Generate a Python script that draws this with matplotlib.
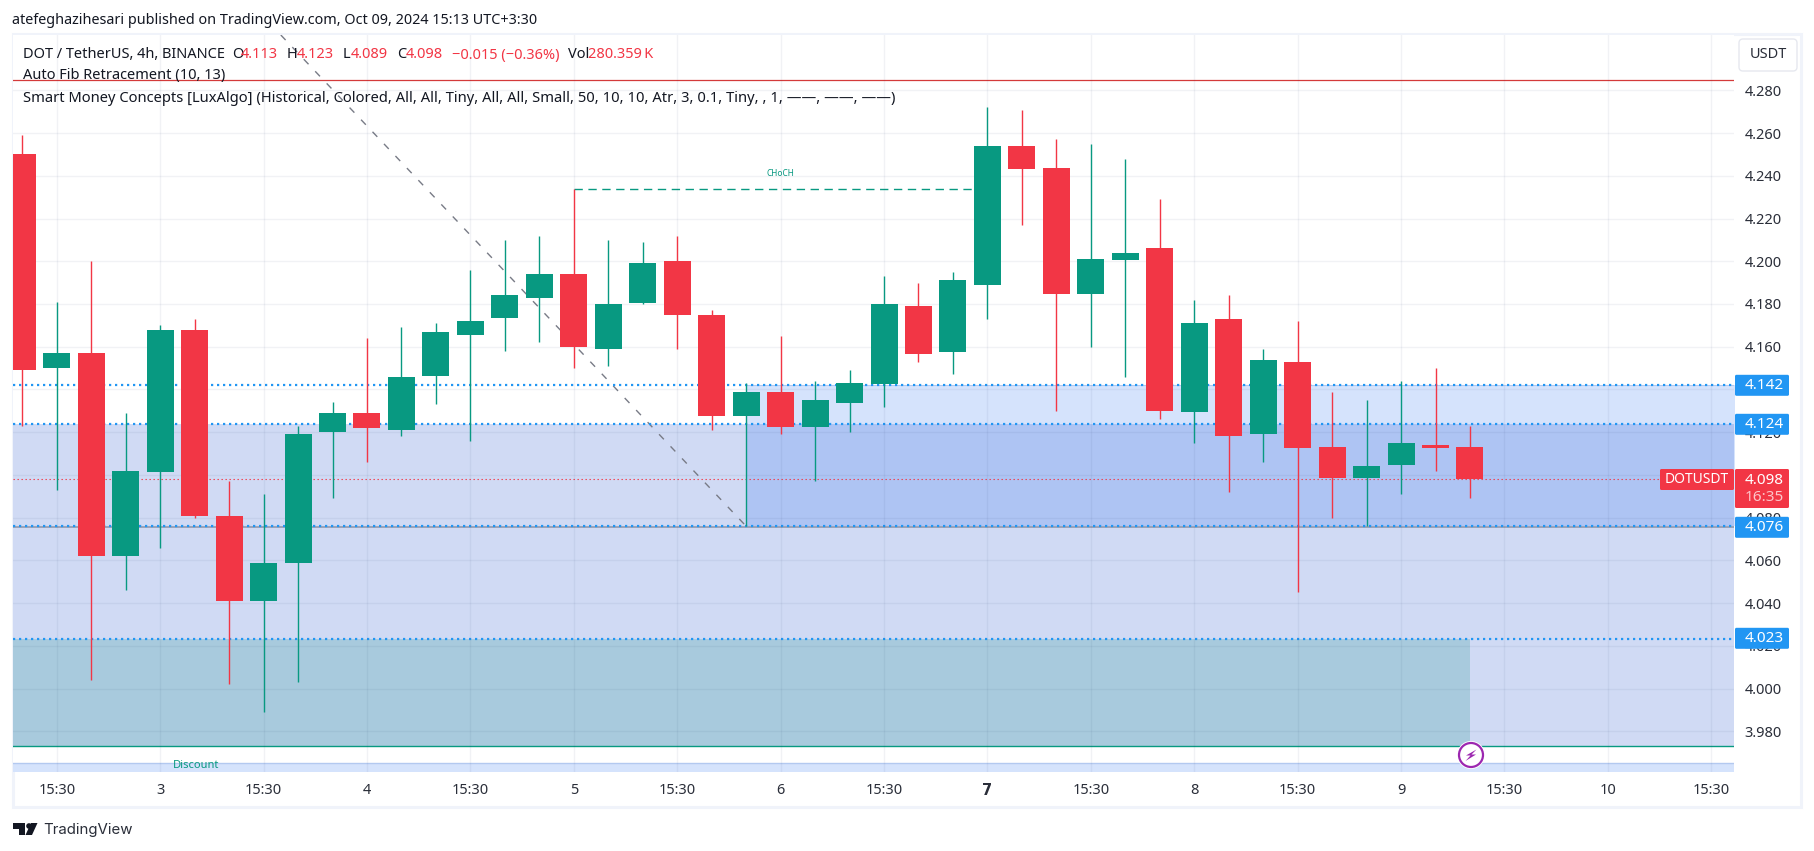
import matplotlib
matplotlib.use("Agg")
import matplotlib.pyplot as plt
from matplotlib.patches import Rectangle, FancyBboxPatch, Circle, Polygon
from matplotlib.transforms import Affine2D

plt.rcParams['font.family'] = ['Noto Sans', 'DejaVu Sans']

# candles, 4h
opens = [4.250, 4.150, 4.157, 4.062, 4.1015, 4.168, 4.081, 4.041, 4.059, 4.120, 4.129, 4.121, 4.1465, 4.1655,
         4.1735, 4.183, 4.194, 4.159, 4.1805, 4.200, 4.175, 4.1276, 4.139, 4.1225, 4.1337, 4.1426, 4.179, 4.1576,
         4.189, 4.254, 4.2437, 4.1847, 4.2006, 4.206, 4.1295, 4.173, 4.119, 4.153, 4.113, 4.0986, 4.1047, 4.114, 4.113]
highs = [4.259, 4.181, 4.200, 4.129, 4.170, 4.173, 4.097, 4.091, 4.123, 4.134, 4.164, 4.169, 4.171, 4.196,
         4.210, 4.212, 4.234, 4.210, 4.209, 4.212, 4.177, 4.143, 4.165, 4.144, 4.149, 4.193, 4.190, 4.195,
         4.272, 4.271, 4.257, 4.255, 4.248, 4.229, 4.182, 4.184, 4.159, 4.172, 4.139, 4.135, 4.144, 4.150, 4.123]
lows = [4.123, 4.093, 4.004, 4.046, 4.066, 4.080, 4.002, 3.989, 4.003, 4.089, 4.106, 4.118, 4.133, 4.116,
        4.158, 4.162, 4.150, 4.151, 4.180, 4.159, 4.121, 4.076, 4.119, 4.097, 4.120, 4.132, 4.153, 4.147,
        4.173, 4.217, 4.130, 4.160, 4.146, 4.126, 4.115, 4.092, 4.106, 4.045, 4.080, 4.076, 4.091, 4.102, 4.089]
closes = [4.149, 4.157, 4.062, 4.102, 4.168, 4.081, 4.041, 4.059, 4.119, 4.129, 4.122, 4.146, 4.167, 4.172,
          4.184, 4.194, 4.160, 4.180, 4.199, 4.175, 4.1276, 4.139, 4.1225, 4.135, 4.143, 4.180, 4.1566, 4.191,
          4.254, 4.243, 4.1847, 4.201, 4.204, 4.130, 4.171, 4.118, 4.154, 4.1126, 4.0986, 4.104, 4.115, 4.1126, 4.098]

# axis
y_ticks = [3.98, 4.00, 4.02, 4.04, 4.06, 4.08, 4.10, 4.12, 4.14, 4.16, 4.18, 4.20, 4.22, 4.24, 4.26, 4.28]
x_ticks = [1, 4, 7, 10, 13, 16, 19, 22, 25, 28, 31, 34, 37, 40, 43, 46, 49]
x_labels = ['15:30', '3', '15:30', '4', '15:30', '5', '15:30', '6', '15:30', '7', '15:30', '8', '15:30', '9', '15:30', '10', '15:30']

# levels
fib_levels = [4.142, 4.124, 4.076, 4.023]
last_price = 4.098
top_line = 4.2847
bottom_line = 3.973
choch_level = 4.2337
fib_x = [7.5, 21]
fib_y = [4.3059, 4.076]
box_start = 21
choch_x = [16, 28]
teal_end = 42
discount_top = 3.9652

GREEN = '#089981'
RED = '#f23645'
BLUE = '#2196f3'
BORDER = '#f0f3fa'
TEXT = '#131722'

W, H = 1814, 851
fig = plt.figure(figsize=(W / 100, H / 100), dpi=100, facecolor='white')
px = Affine2D().scale(1, -1).translate(0, H)  # top-left pixel coords for the page furniture

# outer frame
fig.add_artist(Rectangle((12.5, 34), 1788, 772.5, fill=False, ec=BORDER, lw=2.2, transform=px, zorder=-1))

ax = fig.add_axes([13 / W, 1 - 772 / H, (1734 - 13) / W, (772 - 35) / H])
ax.set_xlim(-0.27, 49.66)
ax.set_ylim(3.96095, 4.3059)
for s in ax.spines.values():
    s.set_visible(False)

# zones
ax.axhspan(bottom_line, fib_levels[1], color=(20 / 255, 70 / 255, 200 / 255), alpha=0.2, lw=0, zorder=1)
ax.axhspan(3.90, discount_top, color=(8 / 255, 90 / 255, 243 / 255), alpha=0.17, lw=0, zorder=1)
ax.axhline(discount_top, color='#b3c9f0', lw=1, zorder=1)
ax.fill_between([box_start, 60], fib_levels[2], fib_levels[0], color=(8 / 255, 90 / 255, 243 / 255), alpha=0.17, lw=0, zorder=1)
ax.plot([box_start, 60], [fib_levels[0]] * 2, color='#b3c9f0', lw=0.8, zorder=1)
ax.fill_between([-1, teal_end], bottom_line, fib_levels[3], color=(78 / 255, 168 / 255, 171 / 255), alpha=0.3, lw=0, zorder=1)

# grid goes over the zones, it shows darker there
ax.set_yticks(y_ticks)
ax.set_yticklabels([f'{v:.3f}' for v in y_ticks])
ax.set_xticks(x_ticks)
ax.set_xticklabels(x_labels)
ax.grid(True, color=(30 / 255, 50 / 255, 100 / 255), alpha=0.06, lw=1)
ax.set_axisbelow(False)
for g in ax.get_xgridlines() + ax.get_ygridlines():
    g.set_zorder(1.5)
ax.yaxis.tick_right()
ax.tick_params(axis='both', length=0, labelsize=10.5, labelcolor='#2a2e39')
ax.tick_params(axis='y', pad=7.5)
ax.tick_params(axis='x', pad=7.8)
# Monday label is bold, Noto has no bold here
ax.get_xticklabels()[9].set_fontfamily('DejaVu Sans')
ax.get_xticklabels()[9].set_fontweight('bold')

# level lines
ax.axhline(fib_levels[2] - 0.0005, color='#8b93a8', lw=1.1, zorder=2)
ax.axhline(top_line, color='#d43a3a', lw=0.9, zorder=2)
ax.axhline(bottom_line, color=GREEN, lw=1, zorder=2)
for lvl in fib_levels:
    ax.axhline(lvl, color=BLUE, lw=1.6, ls=(0, (1.0, 1.7)), zorder=2.2)
ax.axhline(last_price, color=RED, lw=0.8, ls=(0, (1.2, 2.4)), zorder=2.2)
ax.plot(fib_x, fib_y, color='#787b86', lw=1, ls=(0, (5, 7)), zorder=2)
ax.plot(choch_x, [choch_level] * 2, color=GREEN, lw=1, ls=(0, (6, 4)), zorder=2)
ax.text(sum(choch_x) / 2, choch_level + 0.0075, 'CHoCH', color=GREEN, fontsize=6, ha='center', va='center', zorder=2)
ax.text(5.05, 3.9638, 'Discount', color=GREEN, fontsize=8, ha='center', va='center', zorder=2)

# candles
for i in range(len(opens)):
    c = GREEN if closes[i] >= opens[i] else RED
    ax.vlines(i, lows[i], highs[i], color=c, lw=1, zorder=3)
    ax.bar(i, abs(closes[i] - opens[i]), bottom=min(opens[i], closes[i]), width=0.783, color=c, lw=0, zorder=3.1)

# lightning marker
fig.add_artist(Circle((1471, 755), 14, fc='white', ec='none', transform=px, zorder=6))
fig.add_artist(Circle((1471, 755), 12, fc='white', ec='#9c27b0', lw=1.6, transform=px, zorder=6))
fig.add_artist(Polygon([(1476.5, 749.5), (1466, 755.5), (1470.5, 755.5), (1465.5, 761), (1476, 754.5), (1471.5, 754.5)],
                       closed=True, fc='#9c27b0', ec='none', transform=px, zorder=6))


def tag(x0, x1, y0, y1, color):
    fig.add_artist(FancyBboxPatch((x0 + 1, y0 + 1), x1 - x0 - 2, y1 - y0 - 2, boxstyle='round,pad=1,rounding_size=1.5',
                                  fc=color, ec='none', transform=px, zorder=5))


# price tags
for lvl, yc in zip(fib_levels, [385.3, 424.3, 527.3, 638.3]):
    tag(1735, 1789, yc - 10.5, yc + 10.5, BLUE)
    fig.text(1764, yc, f'{lvl:.3f}', color='white', fontsize=11, ha='center', va='center', transform=px, zorder=7)
tag(1735, 1789, 469, 508, RED)
fig.text(1764, 480, f'{last_price:.3f}', color='white', fontsize=11, ha='center', va='center', transform=px, zorder=7)
fig.text(1764, 497.5, '16:35', color='#fcc6ca', fontsize=11, ha='center', va='center', transform=px, zorder=7)
tag(1660, 1734, 469, 490, RED)
fig.text(1697, 479.5, 'DOTUSDT', color='white', fontsize=10, ha='center', va='center', transform=px, zorder=7)

# currency button
fig.add_artist(FancyBboxPatch((1742, 42), 52, 26, boxstyle='round,pad=3,rounding_size=4', fc='white', ec='#e6e8ef', lw=1,
                              transform=px, zorder=5))
fig.text(1768, 55, 'USDT', color='#2a2e39', fontsize=10.5, ha='center', va='center', transform=px, zorder=7)

# header + legend
fig.text(12, 21, 'atefeghazihesari published on TradingView.com, Oct 09, 2024 15:13 UTC+3:30', color=TEXT, fontsize=10.37,
         va='center', transform=px, zorder=7)
legend_parts = [(23, 'DOT / TetherUS, 4h, BINANCE', TEXT), (232, 'O', TEXT), (241, '4.113', RED), (287, 'H', TEXT),
                (297, '4.123', RED), (343, 'L', TEXT), (351, '4.089', RED), (397, 'C', TEXT), (406, '4.098', RED),
                (452, '\u22120.015 (\u22120.36%)', RED), (568, 'Vol', TEXT), (588, '280.359\u2009K', RED)]
for x, s, c in legend_parts:
    fig.text(x, 55, s, color=c, fontsize=10.5, va='center', transform=px, zorder=7)
fig.text(23, 76, 'Auto Fib Retracement (10, 13)', color=TEXT, fontsize=10.5, va='center', transform=px, zorder=7)
fig.text(23, 98, 'Smart Money Concepts [LuxAlgo] (Historical, Colored, All, All, Tiny, All, All, Small, 50, 10, 10, Atr, 3, 0.1, Tiny, , 1, \u2014\u2014, \u2014\u2014, \u2014\u2014)',
         color=TEXT, fontsize=10.6, va='center', transform=px, zorder=7)

# TradingView logo
fig.add_artist(Polygon([(13, 823), (25, 823), (25, 835), (19, 835), (19, 829), (13, 829)], closed=True, fc=TEXT, ec='none', transform=px))
fig.add_artist(Circle((29, 826), 2.8, fc=TEXT, ec='none', transform=px))
fig.add_artist(Polygon([(31, 823), (37.5, 823), (32, 835), (25.5, 835)], closed=True, fc=TEXT, ec='none', transform=px))
fig.text(43, 830, 'TradingView', color='#2a2e39', fontsize=10.8, family='Inter', va='center', transform=px, zorder=7)

fig.savefig('out.png', dpi=100)
